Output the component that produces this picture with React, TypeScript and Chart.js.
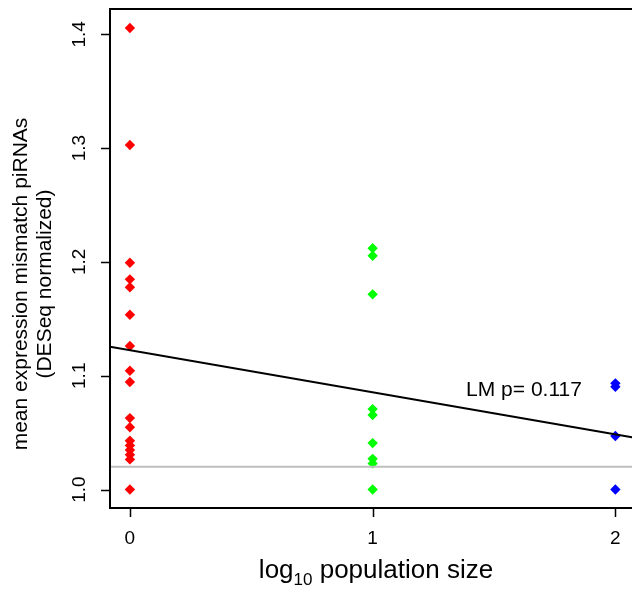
import React, { useEffect, useRef } from "react";
import { Chart, registerables } from "chart.js";

Chart.register(...registerables);

const redX = 0;
const redValues = [1.4055, 1.3027, 1.1993, 1.1847, 1.1777, 1.1536, 1.1261, 1.1044, 1.0945, 1.0628, 1.0547, 1.0429, 1.0388, 1.0347, 1.0306, 1.0265, 1.0];
const greenX = 1;
const greenValues = [1.212, 1.2054, 1.1715, 1.0707, 1.0655, 1.0408, 1.027, 1.023, 1.0];
const blueX = 2;
const blueValues = [1.0933, 1.0903, 1.047, 1.0];

const lmIntercept = 1.1225;
const lmSlope = -0.037;
const referenceLevel = 1.02;

const xTicks = [0, 1, 2];
const xTickLabels = ["0", "1", "2"];
const yTicks = [1.0, 1.1, 1.2, 1.3, 1.4];
const yTickLabels = ["1.0", "1.1", "1.2", "1.3", "1.4"];

const X_MIN = -0.082;
const X_MAX = 2.08;
const Y_MIN = 0.9838;
const Y_MAX = 1.4222;

const lmLabel = "LM p= 0.117";
const yTitle1 = "mean expression mismatch piRNAs";
const yTitle2 = "(DESeq normalized)";

const FONT = "'Liberation Sans', Arial, Helvetica, sans-serif";

const overlay = {
  id: "rOverlay",
  afterDraw(chart: any) {
    const ctx = chart.ctx as CanvasRenderingContext2D;
    const xs = chart.scales.x;
    const ys = chart.scales.y;
    const a = chart.chartArea;
    ctx.save();
    // box
    ctx.strokeStyle = "#000";
    ctx.lineWidth = 2;
    ctx.strokeRect(a.left, a.top, a.right - a.left, a.bottom - a.top);
    // ticks
    ctx.lineWidth = 1.5;
    ctx.beginPath();
    xTicks.forEach((t) => {
      const px = Math.round(xs.getPixelForValue(t)) + 0.5;
      ctx.moveTo(px, a.bottom);
      ctx.lineTo(px, a.bottom + 9);
    });
    yTicks.forEach((t) => {
      const py = Math.round(ys.getPixelForValue(t)) + 0.5;
      ctx.moveTo(a.left, py);
      ctx.lineTo(a.left - 9, py);
    });
    ctx.stroke();
    ctx.fillStyle = "#000";
    // x tick labels
    ctx.font = `19px ${FONT}`;
    ctx.textAlign = "center";
    ctx.textBaseline = "middle";
    xTicks.forEach((t, i) => {
      ctx.fillText(xTickLabels[i], xs.getPixelForValue(t), 538.5);
    });
    // y tick labels rotated
    yTicks.forEach((t, i) => {
      ctx.save();
      ctx.translate(80, ys.getPixelForValue(t));
      ctx.rotate(-Math.PI / 2);
      ctx.fillText(yTickLabels[i], 0, 0);
      ctx.restore();
    });
    // y title
    ctx.font = `21px ${FONT}`;
    ctx.save();
    ctx.translate(21, 284);
    ctx.rotate(-Math.PI / 2);
    ctx.fillText(yTitle1, 0, 0);
    ctx.restore();
    ctx.save();
    ctx.translate(45, 284);
    ctx.rotate(-Math.PI / 2);
    ctx.fillText(yTitle2, 0, 0);
    ctx.restore();
    // LM label
    ctx.fillText(lmLabel, 524, 390);
    // x title with subscript
    const big = `26px ${FONT}`;
    const small = `17px ${FONT}`;
    ctx.textBaseline = "alphabetic";
    ctx.textAlign = "left";
    ctx.font = big;
    const w1 = ctx.measureText("log").width;
    const w3 = ctx.measureText(" population size").width;
    ctx.font = small;
    const w2 = ctx.measureText("10").width;
    const total = w1 + w2 + w3;
    let sx = 376 - total / 2;
    ctx.font = big;
    ctx.fillText("log", sx, 578);
    sx += w1;
    ctx.font = small;
    ctx.fillText("10", sx, 585);
    sx += w2;
    ctx.font = big;
    ctx.fillText(" population size", sx, 578);
    ctx.restore();
  },
};

export default function App() {
  const ref = useRef<HTMLCanvasElement | null>(null);
  useEffect(() => {
    if (!ref.current) return;
    const pts = (x: number, vals: number[]) => vals.map((v) => ({ x, y: v }));
    const lmLine = [X_MIN, X_MAX].map((x) => ({ x, y: lmIntercept + lmSlope * x }));
    const refLine = [X_MIN, X_MAX].map((x) => ({ x, y: referenceLevel }));
    const pointDs = (data: any[], color: string) => ({
      type: "scatter" as const,
      data,
      pointStyle: "rectRot",
      pointRadius: 5.2,
      pointBackgroundColor: color,
      pointBorderColor: color,
      pointBorderWidth: 0,
      showLine: false,
    });
    const chart = new Chart(ref.current, {
      type: "scatter",
      data: {
        datasets: [
          {
            type: "line",
            data: lmLine,
            borderColor: "#000",
            borderWidth: 2,
            pointRadius: 0,
            fill: false,
          } as any,
          {
            type: "line",
            data: refLine,
            borderColor: "#BEBEBE",
            borderWidth: 2,
            pointRadius: 0,
            fill: false,
          } as any,
          pointDs(pts(redX, redValues), "#FF0000"),
          pointDs(pts(greenX, greenValues), "#00FF00"),
          pointDs(pts(blueX, blueValues), "#0000FF"),
        ],
      },
      options: {
        animation: false,
        responsive: false,
        maintainAspectRatio: false,
        layout: { padding: { left: 110, top: 9, right: 5, bottom: 87 } },
        plugins: { legend: { display: false }, tooltip: { enabled: false } },
        scales: {
          x: { type: "linear", min: X_MIN, max: X_MAX, display: false },
          y: { type: "linear", min: Y_MIN, max: Y_MAX, display: false },
        },
      },
      plugins: [overlay],
    });
    return () => chart.destroy();
  }, []);
  return (
    <div style={{ position: "fixed", left: 0, top: 0, width: 632, height: 595, overflow: "hidden", background: "#fff" }}>
      <canvas ref={ref} width={640} height={595} style={{ display: "block", width: 640, height: 595 }} />
    </div>
  );
}
